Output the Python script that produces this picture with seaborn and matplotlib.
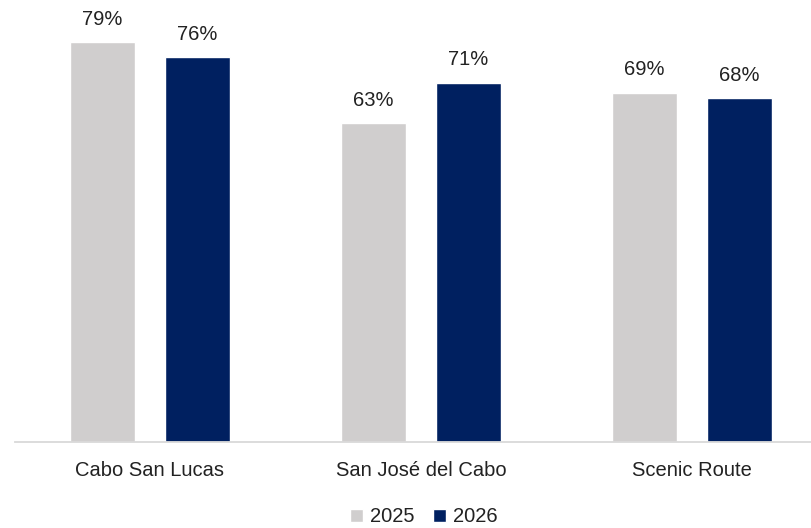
import pandas as pd
import matplotlib
matplotlib.use("Agg")
import matplotlib.pyplot as plt
import seaborn as sns

regions = ["Cabo San Lucas", "San José del Cabo", "Scenic Route"]
years = ["2025", "2026"]
values_2025 = [79, 63, 69]
values_2026 = [76, 71, 68]

df = pd.DataFrame({
    "region": regions * 2,
    "year": [years[0]] * 3 + [years[1]] * 3,
    "value": values_2025 + values_2026,
})

sns.set_theme(style="white")
plt.rcParams["font.family"] = ["Liberation Sans", "DejaVu Sans"]
text_color = "#222222"

fig = plt.figure(figsize=(8.12, 5.28), dpi=100)
# axes spans a bit past the right edge, like the original
ax = fig.add_axes([14.5 / 812, 86 / 528, 813 / 812, 442 / 528])

sns.barplot(
    data=df, x="region", y="value", hue="year",
    hue_order=years, order=regions,
    palette=["#D0CECE", "#002060"],
    width=0.7, gap=0.31, saturation=1, ax=ax,
)

for c in ax.containers:
    ax.bar_label(c, fmt="%.0f%%", padding=9.5, fontsize=14.5, color=text_color)

ax.set_xlim(-0.5, 2.5)
ax.set_ylim(0, 87.3)
ax.set_xlabel("")
ax.set_ylabel("")
ax.set_yticks([])
ax.tick_params(axis="x", length=0, pad=14, labelsize=14.5, labelcolor=text_color)
for side in ["top", "left", "right"]:
    ax.spines[side].set_visible(False)
ax.spines["bottom"].set_color("#D9D9D9")
ax.spines["bottom"].set_linewidth(1.3)

handles, labels = ax.get_legend_handles_labels()
ax.get_legend().remove()
fig.legend(
    handles, labels, loc="center",
    bbox_to_anchor=(423.5 / 812, 11 / 528), bbox_transform=fig.transFigure,
    ncol=2, frameon=False, fontsize=14.5,
    handlelength=0.65, handleheight=0.65, handletextpad=0.35,
    columnspacing=0.9, labelcolor=text_color,
)

fig.savefig("out.png", dpi=100)
